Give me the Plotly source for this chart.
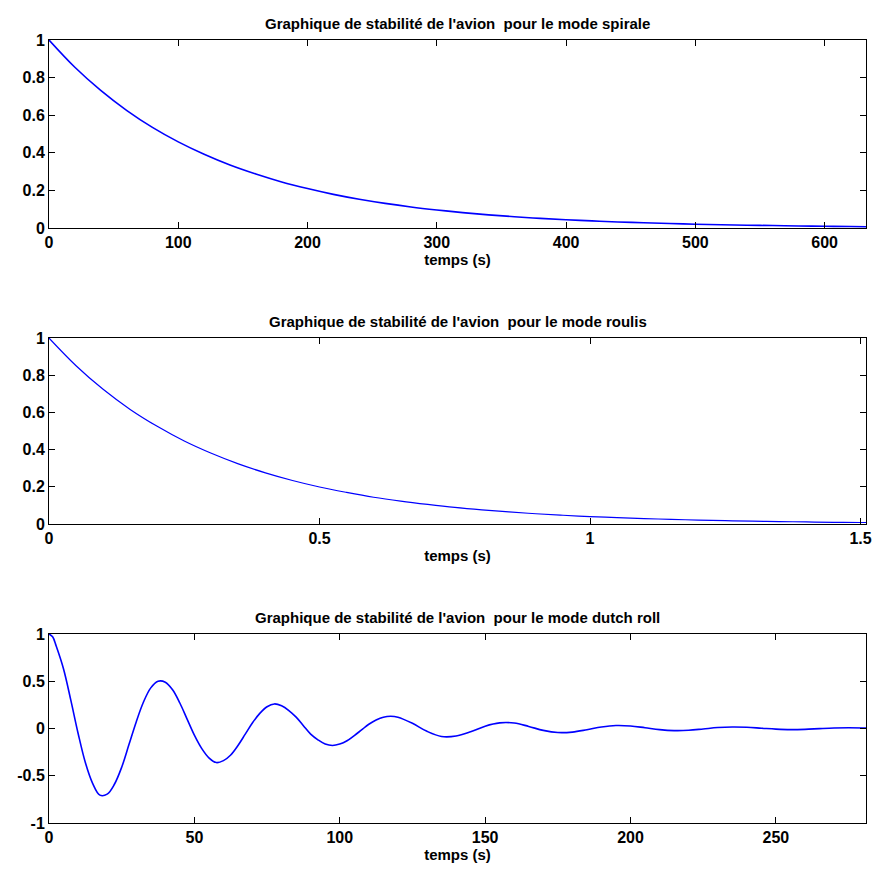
import plotly.graph_objects as go

# --- Spiral mode response ---
spiral_t = [0, 20, 40, 60, 80, 100, 120, 140, 160, 180, 200, 220, 240, 260, 280, 300,
            320, 340, 360, 380, 400, 420, 440, 460, 480, 500, 520, 540, 560, 580, 600, 620, 632]
spiral_y = [1.000, 0.855, 0.732, 0.626, 0.535, 0.458, 0.392, 0.335, 0.287, 0.245, 0.210,
            0.179, 0.153, 0.131, 0.112, 0.096, 0.082, 0.070, 0.060, 0.051, 0.044, 0.038,
            0.032, 0.028, 0.024, 0.020, 0.017, 0.015, 0.013, 0.011, 0.009, 0.008, 0.007]

# --- Roll mode response ---
roll_t = [0, 0.05, 0.10, 0.15, 0.20, 0.25, 0.30, 0.35, 0.40, 0.45, 0.50, 0.55, 0.60, 0.65,
          0.70, 0.75, 0.80, 0.85, 0.90, 0.95, 1.00, 1.05, 1.10, 1.15, 1.20, 1.25, 1.30,
          1.35, 1.40, 1.45, 1.50, 1.51]
roll_y = [1.000, 0.851, 0.724, 0.616, 0.525, 0.446, 0.380, 0.323, 0.275, 0.234, 0.199,
          0.170, 0.144, 0.123, 0.105, 0.089, 0.076, 0.065, 0.055, 0.047, 0.040, 0.034,
          0.029, 0.025, 0.021, 0.018, 0.015, 0.013, 0.011, 0.009, 0.008, 0.008]

# --- Dutch roll mode response ---
dutch_t = [0, 1.25, 2.5, 5, 7.5, 10, 12.5, 15, 17.5, 20, 22.5, 25, 27.5, 30, 32.5, 35, 37.5,
           40, 42.5, 45, 47.5, 50, 52.5, 55, 57.5, 60, 62.5, 65, 67.5, 70, 72.5, 75, 77.5,
           80, 82.5, 85, 87.5, 90, 92.5, 95, 97.5, 100, 102.5, 105, 107.5, 110, 112.5,
           115, 117.5, 120, 125, 130, 135, 140, 145, 150, 155, 160, 165, 170, 175, 180,
           185, 190, 195, 200, 205, 210, 215, 220, 225, 230, 235, 240, 245, 250, 255,
           260, 265, 270, 275, 280, 281]
dutch_y = [1.000, 0.97, 0.87, 0.63, 0.30, -0.05, -0.36, -0.58, -0.705, -0.695, -0.59, -0.41,
           -0.17, 0.07, 0.28, 0.43, 0.50, 0.49, 0.41, 0.27, 0.10, -0.07, -0.21, -0.31,
           -0.36, -0.34, -0.28, -0.18, -0.06, 0.06, 0.16, 0.23, 0.26, 0.24, 0.19, 0.12,
           0.03, -0.06, -0.12, -0.165, -0.18, -0.165, -0.13, -0.075, -0.015, 0.045, 0.09,
           0.12, 0.13, 0.12, 0.055, -0.03, -0.085, -0.08, -0.035, 0.025, 0.06, 0.058,
           0.022, -0.02, -0.043, -0.038, -0.013, 0.016, 0.032, 0.027, 0.008, -0.012,
           -0.022, -0.019, -0.005, 0.010, 0.016, 0.013, 0.003, -0.007, -0.012, -0.009,
           -0.001, 0.006, 0.008, 0.006, 0.005]

titles = [
    "Graphique de stabilité de l'avion\u00a0 pour le mode spirale",
    "Graphique de stabilité de l'avion\u00a0 pour le mode roulis",
    "Graphique de stabilité de l'avion\u00a0 pour le mode dutch roll",
]
x_label = "temps (s)"

spiral_xticks = [0, 100, 200, 300, 400, 500, 600]
roll_xticks = [0, 0.5, 1, 1.5]
roll_xticktext = ["0", "0.5", "1", "1.5"]
dutch_xticks = [0, 50, 100, 150, 200, 250]
decay_yticks = [0, 0.2, 0.4, 0.6, 0.8, 1]
decay_yticktext = ["0", "0.2", "0.4", "0.6", "0.8", "1"]
dutch_yticks = [-1, -0.5, 0, 0.5, 1]
dutch_yticktext = ["-1", "-0.5", "0", "0.5", "1"]

FIG_W, FIG_H = 877, 872
FONT = "Liberation Sans, Arial, Helvetica, sans-serif"

# Plot-area pixel extents (top, bottom) of each panel
panels_px = [(40, 228), (338, 524), (634, 823)]
domains = [[1 - b / FIG_H, 1 - t / FIG_H] for (t, b) in panels_px]

fig = go.Figure()
series = [(spiral_t, spiral_y, 1.6), (roll_t, roll_y, 1.2), (dutch_t, dutch_y, 1.6)]
for i, (tx, ty, w) in enumerate(series, start=1):
    fig.add_trace(go.Scatter(
        x=tx, y=ty, mode="lines",
        line=dict(color="#0000ff", width=w, shape="spline", smoothing=1.0),
        xaxis=f"x{i if i > 1 else ''}", yaxis=f"y{i if i > 1 else ''}",
        showlegend=False, hoverinfo="skip",
    ))

common_axis = dict(
    showgrid=False, zeroline=False, showline=True, linecolor="black", linewidth=1,
    mirror="ticks", ticks="inside", ticklen=6, tickwidth=1, tickcolor="black",
    automargin=False,
    tickfont=dict(family=FONT, size=16, color="black", weight="bold"),
)
x_title = dict(text=x_label, font=dict(family=FONT, size=15, color="black", weight="bold"),
               standoff=4)

xranges = [[0, 632], [0, 1.51], [0, 281]]
xtickvals = [spiral_xticks, roll_xticks, dutch_xticks]
xticktexts = [[str(v) for v in spiral_xticks], roll_xticktext, [str(v) for v in dutch_xticks]]
yranges = [[0, 1], [0, 1], [-1, 1]]
ytickvals = [decay_yticks, decay_yticks, dutch_yticks]
yticktexts = [decay_yticktext, decay_yticktext, dutch_yticktext]

layout = dict(
    width=FIG_W, height=FIG_H,
    margin=dict(l=49, r=11, t=0, b=0, autoexpand=False),
    paper_bgcolor="white", plot_bgcolor="white",
    font=dict(family=FONT, color="black"),
    showlegend=False,
)
for i in range(3):
    sfx = "" if i == 0 else str(i + 1)
    layout[f"xaxis{sfx}"] = dict(
        common_axis, domain=[0, 1], anchor=f"y{sfx}", range=xranges[i],
        tickmode="array", tickvals=xtickvals[i], ticktext=xticktexts[i],
        title=x_title,
    )
    layout[f"yaxis{sfx}"] = dict(
        common_axis, domain=domains[i], anchor=f"x{sfx}", range=yranges[i],
        tickmode="array", tickvals=ytickvals[i], ticktext=yticktexts[i],
    )

fig.update_layout(**layout)

for i, text in enumerate(titles):
    fig.add_annotation(
        text=text, xref="paper", yref="paper", x=0.5, y=domains[i][1],
        xanchor="center", yanchor="bottom", yshift=6, showarrow=False,
        font=dict(family=FONT, size=15, color="black", weight="bold"),
    )

fig.write_html("out.html")
